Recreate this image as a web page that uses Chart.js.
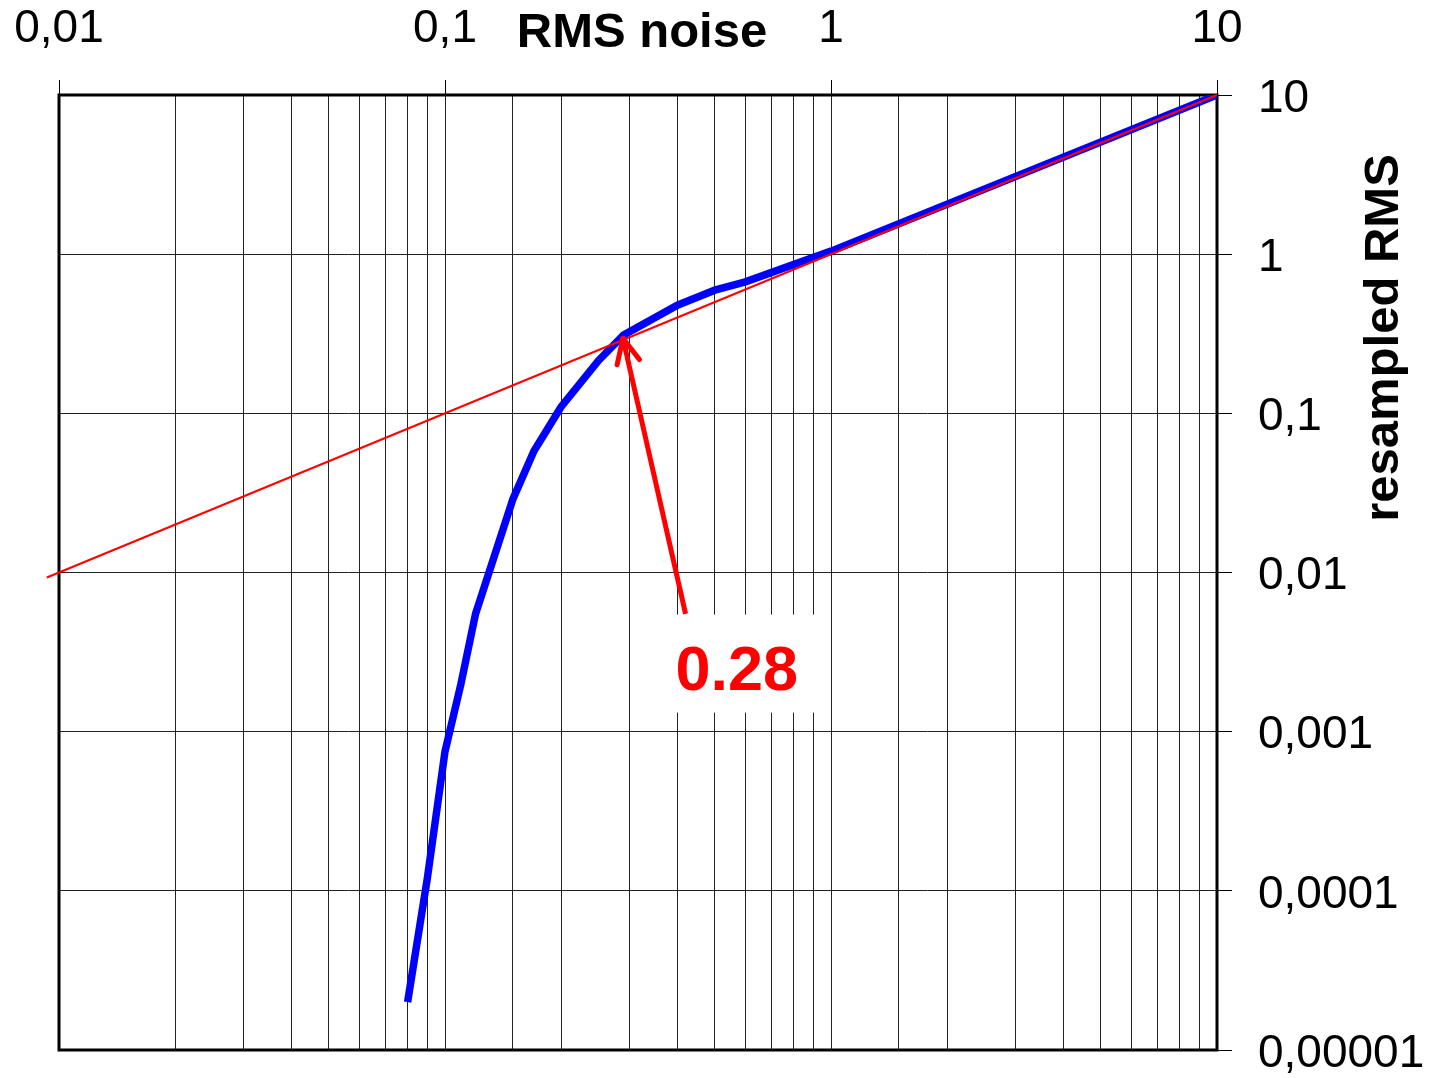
<!DOCTYPE html>
<html><head><meta charset="utf-8">
<script src="https://cdn.jsdelivr.net/npm/chart.js@4.4.1/dist/chart.umd.min.js"></script>
<style>html,body{margin:0;padding:0;background:#fff;}#wrap{width:1429px;height:1078px;position:relative;}</style>
</head><body><div id="wrap"><canvas id="c" width="1429" height="1078"></canvas></div>
<script>
// ---- data ----
const noiseRMS     = [0.08, 0.09, 0.1, 0.11, 0.12, 0.15, 0.17, 0.2, 0.25, 0.29, 0.4, 0.5, 0.6, 1, 10];
const resampledRMS = [2.0e-5, 1.2e-4, 7.5e-4, 2.0e-3, 5.5e-3, 0.029, 0.058, 0.11, 0.215, 0.31, 0.478, 0.594, 0.67, 1.045, 10];
const identityX = [0.0093, 10];
const identityY = [0.0093, 10];
const arrowX = [0.42, 0.289];
const arrowY = [0.0055, 0.296];
const xTickLabels = {'-2': '0,01', '-1': '0,1', '0': '1', '1': '10'};
const yTickLabels = {'-5': '0,00001', '-4': '0,0001', '-3': '0,001', '-2': '0,01', '-1': '0,1', '0': '1', '1': '10'};
const xAxisTitle = 'RMS noise';
const yAxisTitle = 'resampled RMS';
const calloutText = '0.28';
const calloutX = 0.57, calloutY = 0.0026;

const FONT = '"Liberation Sans", Arial, sans-serif';
Chart.defaults.font.family = FONT;
Chart.defaults.color = '#000';

function isDecade(v) { const l = Math.log10(v); return Math.abs(l - Math.round(l)) < 1e-6; }
function noPad(s) { s.paddingLeft = 0; s.paddingRight = 0; s.paddingTop = 0; s.paddingBottom = 0; }

const decor = {
  id: 'decor',
  beforeDatasetsDraw(chart) {
    const {ctx, chartArea: a} = chart;
    ctx.save();
    ctx.strokeStyle = '#000'; ctx.lineWidth = 3;
    ctx.strokeRect(a.left, a.top, a.right - a.left, a.bottom - a.top);
    ctx.restore();
  },
  afterDatasetsDraw(chart) {
    const {ctx, scales: {x, y}} = chart;
    // arrow head
    const tx = x.getPixelForValue(arrowX[1]), ty = y.getPixelForValue(arrowY[1]);
    const sx = x.getPixelForValue(arrowX[0]), sy = y.getPixelForValue(arrowY[0]);
    const ang = Math.atan2(sy - ty, sx - tx);
    ctx.save();
    ctx.strokeStyle = '#ff0000'; ctx.lineWidth = 5; ctx.lineCap = 'round';
    for (const d of [-0.44, 0.44]) {
      ctx.beginPath(); ctx.moveTo(tx, ty);
      ctx.lineTo(tx + 27 * Math.cos(ang + d), ty + 27 * Math.sin(ang + d));
      ctx.stroke();
    }
    // callout
    const cx = x.getPixelForValue(calloutX), cy = y.getPixelForValue(calloutY);
    ctx.fillStyle = '#fff';
    ctx.fillRect(cx - 63, cy - 51, 142, 98);
    ctx.font = 'bold 63px ' + FONT;
    ctx.fillStyle = '#ff0000'; ctx.textAlign = 'center'; ctx.textBaseline = 'alphabetic';
    ctx.fillText(calloutText, cx, cy + 24);
    ctx.restore();
  },
  afterDraw(chart) {
    const {ctx, chartArea: a} = chart;
    ctx.save();
    ctx.fillStyle = '#000';
    ctx.font = 'bold 49px ' + FONT;
    ctx.textAlign = 'center'; ctx.textBaseline = 'alphabetic';
    ctx.fillText(xAxisTitle, (a.left + a.right) / 2 + 4, 47);
    ctx.translate(1398, 338);
    ctx.rotate(-Math.PI / 2);
    ctx.fillText(yAxisTitle, 0, 0);
    ctx.restore();
  }
};

new Chart(document.getElementById('c'), {
  type: 'line',
  data: {
    datasets: [
      { label: 'identity', data: identityX.map((v, i) => ({x: v, y: identityY[i]})),
        borderColor: '#ff0000', borderWidth: 2, pointRadius: 0, clip: false, order: 0 },
      { label: 'arrow', data: arrowX.map((v, i) => ({x: v, y: arrowY[i]})),
        borderColor: '#ff0000', borderWidth: 5, pointRadius: 0, clip: false, order: 0, borderCapStyle: 'butt' },
      { label: 'resampled RMS', data: noiseRMS.map((v, i) => ({x: v, y: resampledRMS[i]})),
        borderColor: '#0000ff', borderWidth: 7.5, pointRadius: 0, order: 1, borderCapStyle: 'butt', tension: 0 }
    ]
  },
  options: {
    responsive: false,
    animation: false,
    events: [],
    layout: { padding: { left: 59, right: 0, top: 0, bottom: 28 } },
    plugins: { legend: { display: false }, tooltip: { enabled: false }, title: { display: false } },
    scales: {
      x: {
        type: 'logarithmic', position: 'top', min: 0.01, max: 10,
        afterFit(s) { s.height = 95; noPad(s); },
        border: { display: false },
        grid: { color: '#222', lineWidth: 1, drawTicks: true, tickLength: 15, tickWidth: 1,
          tickColor: (c) => (c.tick && isDecade(c.tick.value)) ? '#000' : 'rgba(0,0,0,0)' },
        ticks: { autoSkip: false, maxRotation: 0, minRotation: 0, padding: 23, color: '#000',
          font: { size: 46 },
          callback: (v) => isDecade(v) ? (xTickLabels[String(Math.round(Math.log10(v)))] || '') : '' }
      },
      y: {
        type: 'logarithmic', position: 'right', min: 0.00001, max: 10,
        afterBuildTicks(s) { s.ticks = s.ticks.filter(t => isDecade(t.value)); },
        afterFit(s) { s.width = 212; noPad(s); },
        border: { display: false },
        grid: { color: '#222', lineWidth: 1, tickLength: 15, tickColor: '#000', tickWidth: 1 },
        ticks: { autoSkip: false, padding: 26, labelOffset: 4, color: '#000', font: { size: 46 },
          callback: (v) => yTickLabels[String(Math.round(Math.log10(v)))] || '' }
      }
    }
  },
  plugins: [decor]
});
</script></body></html>
